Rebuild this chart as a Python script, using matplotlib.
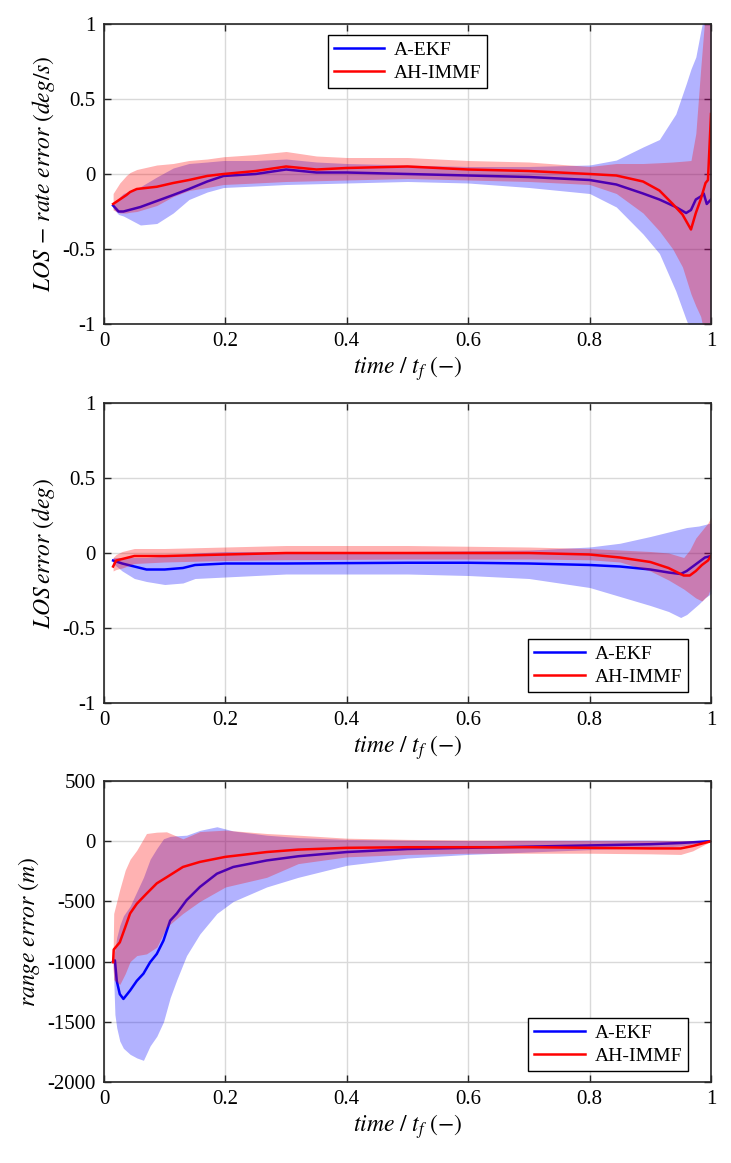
import numpy as np
import matplotlib
matplotlib.use("Agg")
import matplotlib.pyplot as plt

plt.rcParams['font.family'] = ['Liberation Serif', 'DejaVu Serif']
plt.rcParams['mathtext.fontset'] = 'stix'
plt.rcParams['axes.unicode_minus'] = False

# ---------------- Panel 1: LOS-rate error (deg/s) ----------------
t1_ekf = [0.015, 0.024, 0.032, 0.06, 0.087, 0.114, 0.14, 0.17, 0.197, 0.25, 0.3, 0.35, 0.4, 0.5, 0.6, 0.7,
          0.8, 0.844, 0.888, 0.915, 0.942, 0.959, 0.967, 0.975, 0.983, 0.988, 0.993, 1.0]
m1_ekf = [-0.21, -0.25, -0.25, -0.22, -0.18, -0.14, -0.1, -0.05, -0.013, 0.0, 0.03, 0.01, 0.01, 0.0, -0.01, -0.02,
          -0.04, -0.07, -0.13, -0.17, -0.22, -0.26, -0.24, -0.17, -0.15, -0.13, -0.2, -0.17]
up1_ekf = [-0.19, -0.16, -0.13, -0.085, -0.02, 0.04, 0.07, 0.08, 0.09, 0.09, 0.1, 0.08, 0.07, 0.06, 0.05, 0.05,
           0.06, 0.093, 0.18, 0.23, 0.4, 0.6, 0.7, 0.78, 0.95, 1.05, 1.2, 1.3]
lo1_ekf = [-0.23, -0.27, -0.28, -0.34, -0.33, -0.26, -0.17, -0.12, -0.09, -0.08, -0.07, -0.065, -0.06, -0.05, -0.06, -0.09,
           -0.13, -0.22, -0.4, -0.53, -0.78, -0.97, -1.05, -1.2, -1.4, -1.5, -1.7, -2.0]

t1_imm = [0.015, 0.026, 0.037, 0.043, 0.054, 0.087, 0.114, 0.14, 0.17, 0.197, 0.25, 0.3, 0.35, 0.4, 0.5, 0.6, 0.7,
          0.8, 0.844, 0.888, 0.915, 0.937, 0.953, 0.967, 0.975, 0.983, 0.991, 0.995, 1.0]
m1_imm = [-0.2, -0.17, -0.14, -0.12, -0.1, -0.085, -0.06, -0.04, -0.013, 0.0, 0.02, 0.05, 0.03, 0.04, 0.05, 0.03, 0.02,
          0.0, -0.01, -0.05, -0.11, -0.2, -0.27, -0.37, -0.26, -0.17, -0.06, -0.04, 0.4]
up1_imm = [-0.13, -0.06, -0.01, 0.01, 0.03, 0.06, 0.07, 0.09, 0.1, 0.115, 0.13, 0.15, 0.12, 0.11, 0.11, 0.09, 0.08,
           0.05, 0.07, 0.07, 0.075, 0.08, 0.085, 0.09, 0.27, 0.7, 1.1, 1.3, 1.5]
lo1_imm = [-0.24, -0.26, -0.26, -0.255, -0.25, -0.21, -0.15, -0.11, -0.09, -0.07, -0.06, -0.05, -0.045, -0.04, -0.03, -0.04, -0.05,
           -0.07, -0.13, -0.26, -0.38, -0.5, -0.62, -0.8, -0.88, -0.95, -1.1, -1.3, -1.5]

# ---------------- Panel 2: LOS error (deg) ----------------
t2_ekf = [0.015, 0.03, 0.05, 0.07, 0.1, 0.13, 0.15, 0.2, 0.3, 0.5, 0.6, 0.7, 0.8, 0.85, 0.9, 0.93,
          0.95, 0.96, 0.98, 0.99, 1.0]
m2_ekf = [-0.05, -0.07, -0.09, -0.11, -0.11, -0.1, -0.08, -0.07, -0.07, -0.065, -0.065, -0.07, -0.08, -0.09, -0.11, -0.13,
          -0.14, -0.12, -0.06, -0.03, -0.02]
up2_ekf = [-0.03, -0.03, -0.03, -0.03, -0.02, -0.01, 0.0, 0.01, 0.01, 0.01, 0.015, 0.02, 0.04, 0.065, 0.11, 0.14,
           0.16, 0.17, 0.18, 0.19, 0.2]
lo2_ekf = [-0.07, -0.12, -0.17, -0.19, -0.21, -0.2, -0.17, -0.16, -0.14, -0.14, -0.15, -0.17, -0.23, -0.29, -0.35, -0.39,
           -0.43, -0.41, -0.34, -0.3, -0.27]

t2_imm = [0.015, 0.02, 0.03, 0.05, 0.1, 0.2, 0.3, 0.5, 0.7, 0.8, 0.85, 0.9, 0.93, 0.955, 0.965, 0.975, 0.985,
          0.995, 1.0]
m2_imm = [-0.09, -0.05, -0.04, -0.02, -0.02, -0.01, 0.0, 0.0, 0.0, -0.01, -0.03, -0.06, -0.1, -0.15, -0.15, -0.12, -0.08,
          -0.05, -0.02]
up2_imm = [-0.03, -0.01, 0.01, 0.03, 0.03, 0.04, 0.05, 0.05, 0.04, 0.03, 0.02, 0.01, 0.0, -0.03, 0.02, 0.1, 0.15,
           0.2, 0.24]
lo2_imm = [-0.12, -0.11, -0.1, -0.07, -0.06, -0.05, -0.045, -0.04, -0.04, -0.045, -0.06, -0.12, -0.18, -0.24, -0.27, -0.3, -0.32,
           -0.28, -0.23]

# ---------------- Panel 3: range error (m) ----------------
t3_ekf = [0.015, 0.018, 0.021, 0.026, 0.032, 0.043, 0.054, 0.065, 0.076, 0.087, 0.098, 0.109, 0.12, 0.136, 0.158, 0.186,
          0.213, 0.268, 0.32, 0.4, 0.5, 0.6, 0.7, 0.8, 0.9, 0.95, 1.0]
m3_ekf = [-1000, -990, -1160, -1270, -1310, -1240, -1160, -1100, -1005, -936, -825, -660, -600, -490, -380, -270,
          -214, -160, -125, -90, -65, -55, -45, -35, -25, -15, 0]
up3_ekf = [-1000, -900, -800, -700, -620, -540, -420, -300, -150, -60, 20, 40, 45, 50, 90, 120,
           85, 50, 30, 15, 8, 5, 8, 10, 10, 5, 0]
lo3_ekf = [-1000, -1440, -1550, -1660, -1720, -1770, -1800, -1820, -1700, -1620, -1500, -1300, -1150, -950, -770, -600,
           -500, -380, -300, -200, -140, -110, -90, -70, -55, -40, 0]

t3_imm = [0.015, 0.016, 0.026, 0.035, 0.043, 0.054, 0.07, 0.087, 0.103, 0.13, 0.158, 0.2, 0.268, 0.32, 0.4, 0.5,
          0.6, 0.7, 0.8, 0.9, 0.95, 0.97, 1.0]
m3_imm = [-1005, -900, -840, -714, -600, -520, -436, -350, -300, -214, -172, -130, -90, -70, -55, -50,
          -50, -50, -55, -60, -60, -40, 0]
up3_imm = [-950, -600, -400, -240, -150, -75, 64, 75, 78, 20, 80, 92, 64, 50, 25, 15,
           10, 8, 5, 5, 5, 5, 0]
lo3_imm = [-1050, -1150, -1190, -1100, -1000, -950, -936, -880, -714, -600, -500, -380, -300, -186, -130, -110,
           -100, -100, -100, -105, -110, -80, 0]

x_ticks = [0, 0.2, 0.4, 0.6, 0.8, 1]
x_ticklabels = ["0", "0.2", "0.4", "0.6", "0.8", "1"]
y1_ticks = [-1, -0.5, 0, 0.5, 1]
y1_ticklabels = ["-1", "-0.5", "0", "0.5", "1"]
y3_ticks = [-2000, -1500, -1000, -500, 0, 500]
y3_ticklabels = ["-2000", "-1500", "-1000", "-500", "0", "500"]

labels = ["A-EKF", "AH-IMMF"]
ylabels = [r"$LOS\,-\,rate\ error\ (deg/s)$", r"$LOS\,error\ (deg)$", r"$range\ error\ (m)$"]
xlabel = r"$time\ /\ t_f\ \mathrm{(-)}$"

W, H = 731, 1163
fig = plt.figure(figsize=(W / 100, H / 100), dpi=100)
left = 104 / W
width = 607 / W
tops = [24, 403, 781]
bots = [324, 703, 1082]

blue = (0, 0, 1)
red = (1, 0, 0)

panels = [
    (t1_ekf, m1_ekf, lo1_ekf, up1_ekf, t1_imm, m1_imm, lo1_imm, up1_imm, (-1, 1), y1_ticks, y1_ticklabels),
    (t2_ekf, m2_ekf, lo2_ekf, up2_ekf, t2_imm, m2_imm, lo2_imm, up2_imm, (-1, 1), y1_ticks, y1_ticklabels),
    (t3_ekf, m3_ekf, lo3_ekf, up3_ekf, t3_imm, m3_imm, lo3_imm, up3_imm, (-2000, 500), y3_ticks, y3_ticklabels),
]

for i, p in enumerate(panels):
    te, me, le, ue, ti, mi, li, ui, ylim, yt, ytl = p
    ax = fig.add_axes([left, 1 - bots[i] / H, width, (bots[i] - tops[i]) / H])
    ax.fill_between(te, le, ue, color=blue, alpha=0.3, linewidth=0, zorder=2)
    ax.plot(te, me, color=blue, lw=1.8, zorder=3, label=labels[0])
    ax.fill_between(ti, li, ui, color=red, alpha=0.3, linewidth=0, zorder=4)
    ax.plot(ti, mi, color=red, lw=1.8, zorder=5, label=labels[1])
    ax.set_xlim(0, 1)
    ax.set_ylim(*ylim)
    ax.set_xticks(x_ticks)
    ax.set_xticklabels(x_ticklabels)
    ax.set_yticks(yt)
    ax.set_yticklabels(ytl)
    ax.grid(True, color=(0.85, 0.85, 0.85), lw=1)
    ax.set_axisbelow(True)
    ax.tick_params(direction='in', top=True, right=True, length=5, width=1,
                   labelsize=15, color=(0.15, 0.15, 0.15), pad=6)
    for s in ax.spines.values():
        s.set_color((0.15, 0.15, 0.15))
        s.set_linewidth(1.2)
        s.set_zorder(10)
    ax.set_xlabel(xlabel, fontsize=17, labelpad=2)
    ax.set_ylabel(ylabels[i], fontsize=17, labelpad=4)
    if i == 0:
        leg = ax.legend(loc='upper center', bbox_to_anchor=(0.5, 0.963), fontsize=14,
                        fancybox=False, edgecolor='black', framealpha=1, borderaxespad=0,
                        handlelength=2.6, borderpad=0.3, labelspacing=0.3, handletextpad=0.5)
    else:
        leg = ax.legend(loc='lower right', bbox_to_anchor=(0.962, 0.037), fontsize=14,
                        fancybox=False, edgecolor='black', framealpha=1, borderaxespad=0,
                        handlelength=2.6, borderpad=0.3, labelspacing=0.3, handletextpad=0.5)
    leg.get_frame().set_linewidth(1.0)
    leg.set_zorder(20)

fig.savefig("out.png", dpi=100)
